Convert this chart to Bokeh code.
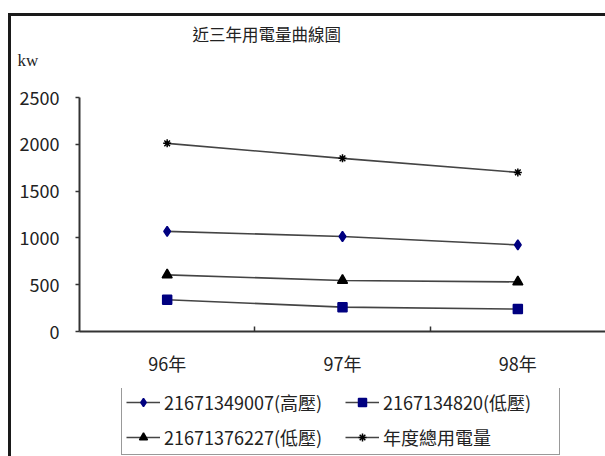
import numpy as np
from bokeh.plotting import figure
from bokeh.layouts import column
from bokeh.models import Range1d, FixedTicker, Legend, LegendItem, Title
from bokeh.embed import file_html
from bokeh.resources import INLINE

# ---- data ----
years = ["96年", "97年", "98年"]
meter_21671349007_high = [1070, 1015, 925]
meter_2167134820_low = [340, 260, 240]
meter_21671376227_low = [605, 545, 530]
total_usage = [2010, 1850, 1700]
y_ticks = [0, 500, 1000, 1500, 2000, 2500]
series_names = ["21671349007(高壓)", "2167134820(低壓)", "21671376227(低壓)", "年度總用電量"]
title_text = "近三年用電量曲線圖"
unit_text = "kw"

FONT = "Noto Sans CJK TC"
INK = "#222222"
LINE = "#444444"
NAVY = "#000080"
W = 594

xs = np.arange(len(years)) + 0.5

series = [
    (meter_21671349007_high, "diamond", 10, NAVY),
    (meter_2167134820_low, "square", 9, NAVY),
    (meter_21671376227_low, "triangle", 10, "black"),
    (total_usage, "asterisk", 8, "black"),
]

# ---- main chart ----
p = figure(width=W, height=372, frame_width=526, frame_height=234,
           output_backend="svg", toolbar_location=None,
           x_range=Range1d(0, len(years)), y_range=Range1d(0, y_ticks[-1]),
           min_border_left=68, min_border_top=81, min_border_right=0,
           min_border_bottom=57)
p.grid.visible = False
p.outline_line_color = None

# above panels, stacked outward from the frame: spacer, unit, title
p.add_layout(Title(text=" ", text_font_size="10px", standoff=15), "above")
p.add_layout(Title(text=unit_text, align="left", offset=-62, standoff=0,
                   text_font="Liberation Serif", text_font_size="17px",
                   text_font_style="normal", text_color=INK), "above")
p.add_layout(Title(text=title_text, align="left", offset=113, standoff=6,
                   text_font=FONT, text_font_size="16.5px",
                   text_font_style="normal", text_color=INK), "above")

xa = p.xaxis[0]
xa.ticker = FixedTicker(ticks=list(xs), minor_ticks=list(range(1, len(years))))
xa.major_label_overrides = {float(x): y for x, y in zip(xs, years)}
xa.axis_line_color = "#333333"
xa.axis_line_width = 2
xa.major_tick_in = 0
xa.major_tick_out = 0
xa.minor_tick_in = 5
xa.minor_tick_out = 0
xa.minor_tick_line_color = "#333333"
xa.minor_tick_line_width = 1.5
xa.major_label_text_font = FONT
xa.major_label_text_font_size = "18px"
xa.major_label_text_color = INK
xa.major_label_standoff = 18

ya = p.yaxis[0]
ya.ticker = FixedTicker(ticks=y_ticks)
ya.axis_line_color = "#333333"
ya.axis_line_width = 2
ya.major_tick_in = 0
ya.major_tick_out = 4
ya.major_tick_line_color = "#333333"
ya.major_tick_line_width = 1.5
ya.minor_tick_in = 0
ya.minor_tick_out = 0
ya.major_label_text_font = FONT
ya.major_label_text_font_size = "18px"
ya.major_label_text_color = INK
ya.major_label_standoff = 16

for vals, marker, size, color in series:
    p.line(xs, vals, line_color=LINE, line_width=1.6)
    p.scatter(xs, vals, marker=marker, size=size, fill_color=color,
              line_color=color, line_width=1.5)

# ---- legend strip (series kept outside its visible range) ----
leg = figure(width=W, height=68, output_backend="svg", toolbar_location=None,
             x_axis_location=None, y_axis_location=None,
             x_range=Range1d(0, len(years)), y_range=Range1d(-2, -1),
             min_border_left=68, min_border_right=0, min_border_top=0,
             min_border_bottom=0)
leg.grid.visible = False
leg.outline_line_color = None

items = []
for (vals, marker, size, color), name in zip(series, series_names):
    ln = leg.line(xs, vals, line_color=LINE, line_width=1.6)
    sc = leg.scatter(xs, vals, marker=marker, size=size - 2, fill_color=color,
                     line_color=color, line_width=1.5)
    items.append(LegendItem(label=name, renderers=[ln, sc]))

legend = Legend(items=items, ncols=2, orientation="horizontal",
                location=(42, 1),
                border_line_color="#333333", border_line_width=1.5,
                background_fill_color="white", background_fill_alpha=1,
                label_text_font=FONT, label_text_font_size="18px",
                label_text_color=INK, glyph_width=34, glyph_height=20,
                label_height=20, label_width=172, label_standoff=4,
                spacing=9, padding=4, margin=0)
leg.add_layout(legend, "center")

layout = column(p, leg, spacing=0,
                styles={"margin-left": "8px", "margin-top": "13px",
                        "border-left": "3px solid #1a1a1a",
                        "border-top": "3px solid #1a1a1a"})

open("out.html", "w").write(file_html(layout, INLINE))
